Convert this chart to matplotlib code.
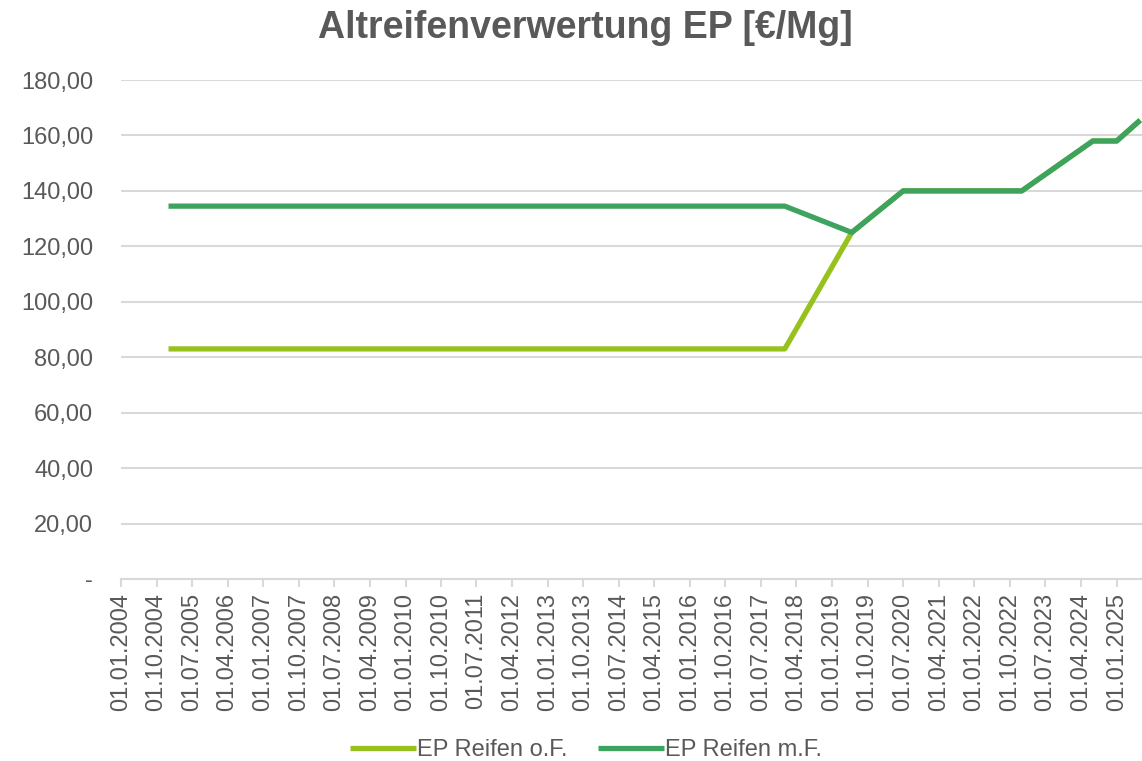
import matplotlib
matplotlib.use("Agg")
import matplotlib.pyplot as plt
import matplotlib.dates as mdates
import numpy as np
import datetime as dt

plt.rcParams['font.family'] = ['Liberation Sans', 'DejaVu Sans']

dates_of = ["2005-01-01", "2018-01-01", "2019-06-01", "2020-07-01", "2023-01-01", "2024-07-01", "2025-01-01", "2025-07-01"]
values_of = [83.0, 83.0, 125.0, 140.0, 140.0, 158.0, 158.0, 165.5]
dates_mf = ["2005-01-01", "2018-01-01", "2019-06-01", "2020-07-01", "2023-01-01", "2024-07-01", "2025-01-01", "2025-07-01"]
values_mf = [134.5, 134.5, 125.0, 140.0, 140.0, 158.0, 158.0, 165.5]
series_names = ["EP Reifen o.F.", "EP Reifen m.F."]
colors = ["#97C21E", "#3DA35F"]
title = "Altreifenverwertung EP [€/Mg]"
y_ticks = [0, 20, 40, 60, 80, 100, 120, 140, 160, 180]

def to_dt(s):
    return [dt.datetime.strptime(x, "%Y-%m-%d") for x in s]

fig = plt.figure(figsize=(11.42, 7.61), dpi=100)
ax = fig.add_axes([121/1142, 1-579/761, 1-121/1142, (579-80)/761])

ax.plot(to_dt(dates_of), values_of, color=colors[0], lw=3.8, label=series_names[0], solid_capstyle='butt', clip_on=True, zorder=3)
ax.plot(to_dt(dates_mf), values_mf, color=colors[1], lw=3.8, label=series_names[1], solid_capstyle='butt', clip_on=True, zorder=4)

# x ticks every 9 months
ticks = []
y, m = 2004, 1
while (y, m) <= (2025, 1):
    ticks.append(dt.datetime(y, m, 1))
    m += 9
    while m > 12:
        m -= 12
        y += 1
ax.set_xticks(ticks)
ax.set_xticklabels([t.strftime("%d.%m.%Y") for t in ticks], rotation=90, fontsize=17, color="#595959")
ax.set_xlim(dt.datetime(2004, 1, 1), dt.datetime(2025, 7, 15))
ax.set_ylim(0, 180)
ax.set_yticks(y_ticks)
ax.set_yticklabels(["-" if v == 0 else f"{v:.2f}".replace(".", ",") for v in y_ticks], fontsize=17, color="#595959")

ax.grid(axis='y', color="#D9D9D9", lw=1.5)
ax.set_axisbelow(True)
for s in ["top", "right", "left"]:
    ax.spines[s].set_visible(False)
ax.spines["bottom"].set_color("#D9D9D9")
ax.spines["bottom"].set_linewidth(1.5)
ax.tick_params(axis='x', length=6, width=1.5, color="#D9D9D9", pad=4)
ax.tick_params(axis='y', length=0, pad=20)

fig.text(585/1142, 1-28/761, title, ha='center', va='center', fontsize=27, fontweight='bold', color="#595959")

fig.legend(loc='center', bbox_to_anchor=(586/1142, 1-750/761), ncol=2, frameon=False, fontsize=17,
           handlelength=2.8, handletextpad=0.05, columnspacing=1.3, labelcolor="#595959")

fig.savefig("out.png", dpi=100)
